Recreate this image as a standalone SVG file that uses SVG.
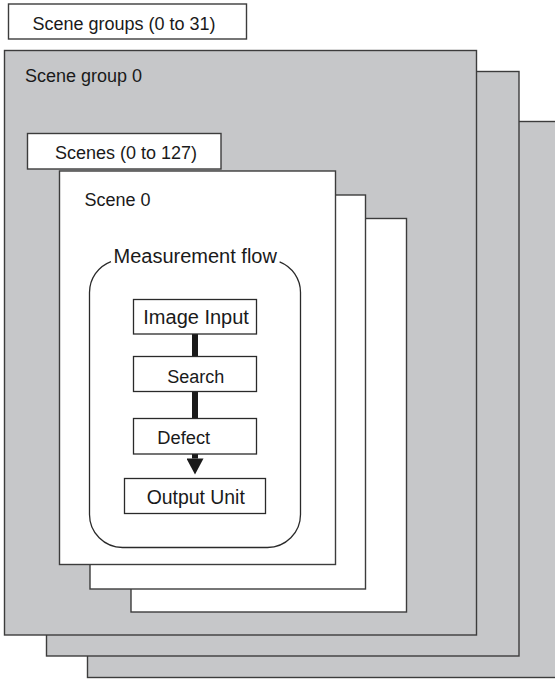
<svg xmlns="http://www.w3.org/2000/svg" width="555" height="679" viewBox="0 0 555 679">
<style>
.gray{fill:#c6c7c9;stroke:#3c3c3c;stroke-width:1.4}
.white{fill:#ffffff;stroke:#3c3c3c;stroke-width:1.4}
.box{fill:#ffffff;stroke:#2a2a2a;stroke-width:1.3}
.t{font-family:"Liberation Sans",Arial,sans-serif;fill:#1a1a1a}
.conn{stroke:#1a1a1a;stroke-width:6;fill:none}
.flow{fill:none;stroke:#2a2a2a;stroke-width:1.3}
</style>
<defs>
<marker id="arrow" markerUnits="userSpaceOnUse" markerWidth="17" markerHeight="17" viewBox="0 0 16 17" refX="0" refY="8.5" orient="auto">
<path d="M0,0 L16,8.5 L0,17 z" fill="#1a1a1a"/>
</marker>
</defs>
<g id="scene-group-2"><rect class="gray" x="87.5" y="121.5" width="480" height="556"/></g>
<g id="scene-group-1"><rect class="gray" x="46.5" y="71.5" width="472.5" height="584.5"/></g>
<g id="scene-group-0">
<rect class="gray" x="4.5" y="50.5" width="472" height="584.5"/>
<text class="t" x="25" y="82" font-size="18">Scene group 0</text>
</g>
<g id="scene-groups-label">
<rect class="white" x="8.5" y="4" width="238" height="35"/>
<text class="t" x="32.5" y="30" font-size="18">Scene groups (0 to 31)</text>
</g>
<g id="scene-2"><rect class="white" x="131" y="218.5" width="275.5" height="393.5"/></g>
<g id="scene-1"><rect class="white" x="90" y="195" width="275.5" height="394"/></g>
<g id="scenes-label">
<rect class="white" x="27.5" y="133.5" width="193.5" height="35.5"/>
<text class="t" x="55" y="158.5" font-size="18">Scenes (0 to 127)</text>
</g>
<g id="scene-0">
<rect class="white" x="59.5" y="171" width="276" height="393.5"/>
<text class="t" x="84.5" y="205.5" font-size="18">Scene 0</text>
</g>
<g id="measurement-flow">
<path class="flow" d="M111,261.6 A33,33 0 0 0 89.5,292.5 V514.5 A33,33 0 0 0 122.5,547.5 H267.5 A33,33 0 0 0 300.5,514.5 V292.5 A33,33 0 0 0 279.6,261.8"/>
<text class="t" x="113.5" y="262.5" font-size="20">Measurement flow</text>
</g>
<g id="connectors">
<line class="conn" x1="195" y1="334" x2="195" y2="356.5"/>
<line class="conn" x1="195" y1="391.5" x2="195" y2="418.5"/>
<line class="conn" x1="195" y1="454" x2="195" y2="458.5" marker-end="url(#arrow)"/>
</g>
<g id="image-input">
<rect class="box" x="133.5" y="299.5" width="123" height="34.5"/>
<text class="t" x="143.3" y="323.5" font-size="20">Image Input</text>
</g>
<g id="search">
<rect class="box" x="133.5" y="356.5" width="123" height="35"/>
<text class="t" x="167.3" y="382.5" font-size="18">Search</text>
</g>
<g id="defect">
<rect class="box" x="133.5" y="418.5" width="123" height="35.5"/>
<text class="t" x="157.3" y="443.5" font-size="18.3">Defect</text>
</g>
<g id="output-unit">
<rect class="box" x="124.5" y="478.5" width="141" height="35"/>
<text class="t" x="146.7" y="504" font-size="19.4">Output Unit</text>
</g>
</svg>
